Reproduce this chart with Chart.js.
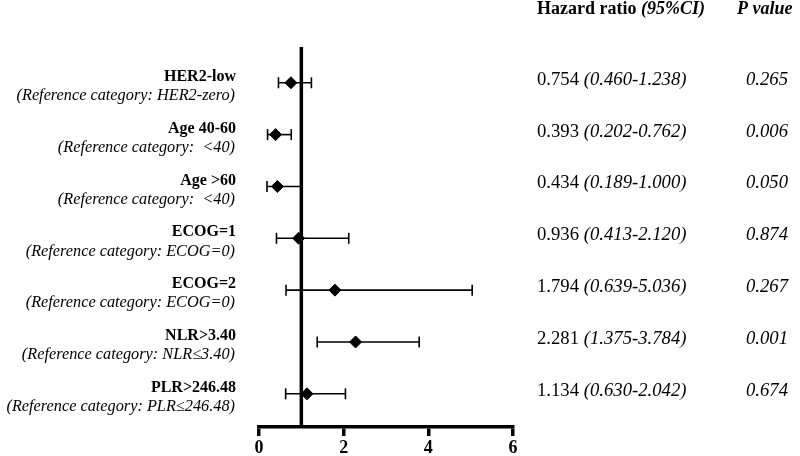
<!DOCTYPE html>
<html>
<head>
    <title>Forest plot</title>
    <meta charset="utf-8">
    <style>
        body {
            margin: 0;
            padding: 0;
            background-color: #fff;
        }
        #chart-box {
            width: 800px;
            height: 456px;
        }
    </style>
    <script src="https://cdn.jsdelivr.net/npm/chart.js"></script>
</head>
<body>
    <div id="chart-box">
        <canvas id="forest-chart"></canvas>
    </div>

    <script>
        const categories = ['HER2-low', 'Age 40-60', 'Age >60', 'ECOG=1', 'ECOG=2', 'NLR>3.40', 'PLR>246.48'];
        const referenceLabels = [
            '(Reference category: HER2-zero)',
            '(Reference category:  <40)',
            '(Reference category:  <40)',
            '(Reference category: ECOG=0)',
            '(Reference category: ECOG=0)',
            '(Reference category: NLR\u22643.40)',
            '(Reference category: PLR\u2264246.48)'
        ];
        const hazardRatios = [0.754, 0.393, 0.434, 0.936, 1.794, 2.281, 1.134];
        const ciLower = [0.460, 0.202, 0.189, 0.413, 0.639, 1.375, 0.630];
        const ciUpper = [1.238, 0.762, 1.000, 2.120, 5.036, 3.784, 2.042];
        const pValues = ['0.265', '0.006', '0.050', '0.874', '0.267', '0.001', '0.674'];
        const xTicks = [0, 2, 4, 6];
        const refValue = 1;

        const serif = "'Liberation Serif', 'Times New Roman', serif";

        // one line dataset per row for the CI whiskers
        const ciSets = categories.map((c, i) => ({
            type: 'scatter',
            data: [{ x: ciLower[i], y: i }, { x: ciUpper[i], y: i }],
            showLine: true,
            borderColor: '#000',
            borderWidth: 1.6,
            pointStyle: 'line',
            rotation: 90,
            pointRadius: 5.5,
            pointBorderWidth: 1.6,
            pointBorderColor: '#000',
            order: 2
        }));

        const textPlugin = {
            id: 'forestText',
            afterDraw(chart) {
                const ctx = chart.ctx;
                const y = chart.scales.y;
                ctx.save();
                ctx.fillStyle = '#000';
                ctx.textBaseline = 'middle';

                // column headers
                ctx.textAlign = 'left';
                ctx.font = 'bold 18px ' + serif;
                ctx.fillText('Hazard ratio ', 537, 9);
                let w = ctx.measureText('Hazard ratio ').width;
                ctx.font = 'italic bold 18px ' + serif;
                ctx.fillText('(95%CI)', 537 + w, 9);
                ctx.fillText('P value', 737, 9);

                categories.forEach((c, i) => {
                    const py = y.getPixelForValue(i);
                    ctx.textAlign = 'right';
                    ctx.font = 'bold 16px ' + serif;
                    ctx.fillText(c, 236, py - 6);
                    ctx.font = 'italic 16.3px ' + serif;
                    ctx.fillText(referenceLabels[i], 235, py + 13);

                    ctx.textAlign = 'left';
                    ctx.font = '18.7px ' + serif;
                    const hr = hazardRatios[i].toFixed(3) + ' ';
                    ctx.fillText(hr, 537, py - 3);
                    const hw = ctx.measureText(hr).width;
                    ctx.font = 'italic 18.7px ' + serif;
                    ctx.fillText('(' + ciLower[i].toFixed(3) + '-' + ciUpper[i].toFixed(3) + ')', 537 + hw, py - 3);

                    ctx.textAlign = 'right';
                    ctx.fillText(pValues[i], 788, py - 3);
                });
                ctx.restore();
            }
        };

        const forestChart = new Chart(document.getElementById('forest-chart'), {
            type: 'scatter',
            data: {
                datasets: [
                    {
                        data: hazardRatios.map((v, i) => ({ x: v, y: i })),
                        pointStyle: 'rectRot',
                        pointRadius: 6,
                        backgroundColor: '#000',
                        borderColor: '#000',
                        order: 0
                    },
                    {
                        data: [{ x: refValue, y: -0.69 }, { x: refValue, y: 6.64 }],
                        showLine: true,
                        borderColor: '#000',
                        borderWidth: 3.5,
                        pointRadius: 0,
                        order: 3
                    },
                    ...ciSets
                ]
            },
            options: {
                responsive: true,
                maintainAspectRatio: false,
                animation: false,
                layout: {
                    padding: { left: 259, right: 287, top: 47, bottom: 0 }
                },
                plugins: {
                    legend: { display: false },
                    tooltip: { enabled: false }
                },
                scales: {
                    x: {
                        type: 'linear',
                        min: 0,
                        max: 6,
                        afterBuildTicks: (axis) => {
                            axis.ticks = xTicks.map(v => ({ value: v }));
                        },
                        // tick labels run off the bottom edge like in the source image
                        afterFit: (axis) => {
                            axis.height = 29;
                        },
                        grid: {
                            drawOnChartArea: false,
                            drawTicks: true,
                            tickLength: 9,
                            lineWidth: 3.5,
                            color: '#000'
                        },
                        border: { display: true, width: 3.5, color: '#000' },
                        ticks: {
                            color: '#000',
                            padding: 2,
                            maxRotation: 0,
                            font: { family: serif, size: 18, weight: 'bold' }
                        }
                    },
                    y: {
                        type: 'linear',
                        min: -0.69,
                        max: 6.64,
                        reverse: true,
                        display: false
                    }
                }
            },
            plugins: [textPlugin]
        });
    </script>
</body>
</html>
